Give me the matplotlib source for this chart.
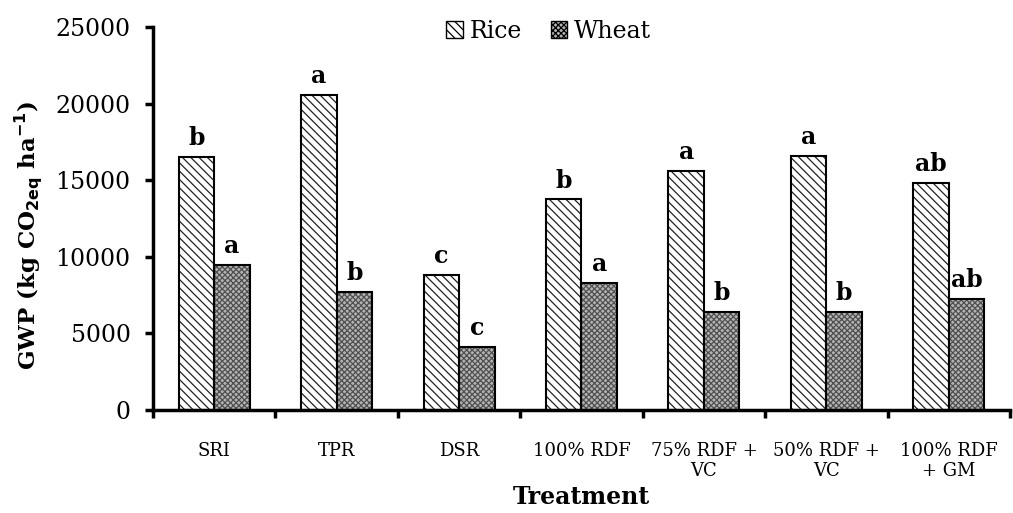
import numpy as np
import matplotlib
matplotlib.use('Agg')
import matplotlib.pyplot as plt
from matplotlib.patches import Patch

# data
treatments = ['SRI', 'TPR', 'DSR', '100% RDF', '75% RDF +\nVC', '50% RDF +\nVC', '100% RDF\n+ GM']
rice = [16550, 20550, 8800, 13750, 15600, 16600, 14800]
wheat = [9450, 7700, 4100, 8300, 6400, 6400, 7250]
rice_letters = ['b', 'a', 'c', 'b', 'a', 'a', 'ab']
wheat_letters = ['a', 'b', 'c', 'a', 'b', 'b', 'ab']

plt.rcParams['font.family'] = ['DejaVu Serif']
plt.rcParams['hatch.linewidth'] = 0.9

fig = plt.figure(figsize=(10.13, 5.13), dpi=100)
ax = fig.add_axes([0.151, 0.201, 0.846, 0.746])

x = np.arange(len(treatments))
w = 0.29

# fill + hatch first, black outline drawn on top
ax.bar(x - w/2, rice, w, color='white', edgecolor='#222222', hatch='\\\\\\\\', linewidth=0)
ax.bar(x + w/2, wheat, w, color='#b4b4b4', edgecolor='#505050', hatch='xxxxxx', linewidth=0)
ax.bar(x - w/2, rice, w, color='none', edgecolor='black', linewidth=1.5)
ax.bar(x + w/2, wheat, w, color='none', edgecolor='black', linewidth=1.5)

for i in range(len(x)):
    ax.text(x[i] - w/2, rice[i] + 450, rice_letters[i], ha='center', va='bottom',
            fontsize=17, fontweight='bold')
    ax.text(x[i] + w/2, wheat[i] + 450, wheat_letters[i], ha='center', va='bottom',
            fontsize=17, fontweight='bold')

ax.set_ylim(0, 25000)
ax.set_yticks([0, 5000, 10000, 15000, 20000, 25000])
ax.set_xlim(-0.5, len(x) - 0.52)
ax.set_xticks(np.arange(len(x) + 1) - 0.5)
ax.set_xticklabels([])
ax.set_xticks(x, minor=True)
ax.set_xticklabels(treatments, minor=True, fontsize=13, linespacing=1.15)
ax.tick_params(axis='x', which='minor', length=0, pad=23)
ax.tick_params(axis='x', which='major', length=6, width=2.5, direction='out')
ax.tick_params(axis='y', length=6, width=2.5, direction='out', labelsize=17, pad=10)

for s in ['top', 'right']:
    ax.spines[s].set_visible(False)
for s in ['left', 'bottom']:
    ax.spines[s].set_linewidth(2.5)

ax.set_ylabel(r'GWP (kg CO$_{\mathbf{2eq}}$ ha$^{\mathbf{-1}}$)', fontsize=16.5, fontweight='bold')
ax.yaxis.set_label_coords(-0.127, 0.455)
ax.set_xlabel('Treatment', fontsize=17, fontweight='bold', labelpad=4)

handles = [Patch(facecolor='white', edgecolor='black', hatch='\\\\\\\\', label='Rice'),
           Patch(facecolor='#b4b4b4', edgecolor='black', hatch='xxxxxx', label='Wheat')]
ax.legend(handles=handles, loc='upper center', bbox_to_anchor=(0.462, 1.075), ncol=2,
          frameon=False, fontsize=17, handlelength=0.7, handleheight=0.7,
          handletextpad=0.3, columnspacing=1.2)

fig.savefig('out.png', dpi=100)
